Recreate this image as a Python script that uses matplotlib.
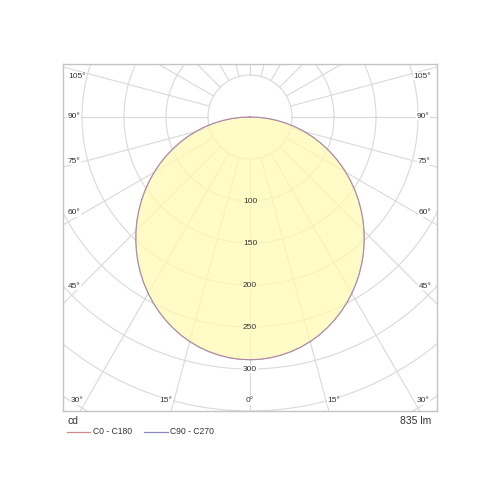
import numpy as np
import matplotlib.pyplot as plt
from matplotlib.lines import Line2D

plt.rcParams['font.family'] = ['Liberation Sans', 'DejaVu Sans']

# Lichtstärkeverteilung (cd) über Ausstrahlungswinkel gamma
gamma = [0, 2.5, 5, 7.5, 10, 12.5, 15, 17.5, 20, 22.5, 25, 27.5, 30, 32.5, 35, 37.5, 40, 42.5, 45,
         47.5, 50, 52.5, 55, 57.5, 60, 62.5, 65, 67.5, 70, 72.5, 75, 77.5, 80, 82.5, 85, 87.5, 90]
c0_c180 = [289.0, 288.7, 287.6, 285.9, 283.5, 280.5, 276.8, 272.5, 267.5, 262.0, 256.0, 249.5, 242.4,
           235.0, 227.1, 218.8, 210.2, 201.2, 192.0, 182.5, 172.7, 162.7, 152.6, 142.2, 131.8, 121.2,
           110.4, 99.6, 88.7, 77.8, 66.8, 55.7, 44.6, 33.5, 22.3, 11.2, 0.0]
c90_c270 = [289.0, 288.7, 287.6, 285.9, 283.5, 280.5, 276.8, 272.5, 267.5, 262.0, 256.0, 249.5, 242.4,
            235.0, 227.1, 218.8, 210.2, 201.2, 192.0, 182.5, 172.7, 162.7, 152.6, 142.2, 131.8, 121.2,
            110.4, 99.6, 88.7, 77.8, 66.8, 55.7, 44.6, 33.5, 22.3, 11.2, 0.0]

radii = [50, 100, 150, 200, 250, 300, 350, 400, 450]
radius_labels = ['100', '150', '200', '250', '300']
spokes = np.arange(0, 181, 15)
flux_text = '835 lm'
unit_text = 'cd'
legend_names = ['C0 - C180', 'C90 - C270']

# Positionen der Winkelbeschriftung (Pixel)
angle_labels = [('105°', 77, 76), ('90°', 74, 116), ('75°', 74, 161), ('60°', 74, 213), ('45°', 74, 286),
                ('105°', 422, 76), ('90°', 423, 116), ('75°', 424, 161), ('60°', 425, 213), ('45°', 425, 286),
                ('30°', 77, 401), ('15°', 166, 401), ('0°', 250, 401), ('15°', 334, 401), ('30°', 423, 401)]

fill_col = '#fffab3'
label_bg = '#fffbc6'
grid_col = '#d9d9d9'
text_col = '#333333'


def px(x, y):
    return x / 500, 1 - y / 500


fig = plt.figure(figsize=(5, 5), dpi=100)
ax = fig.add_axes([0.126, 0.178, 0.748, 0.694])
ax.set_xlim(-222.6, 222.6)
ax.set_ylim(-350, 63.1)
ax.set_xticks([])
ax.set_yticks([])
for s in ax.spines.values():
    s.set_color('#c4c4c4')
    s.set_linewidth(1.0)


def curve(vals):
    g = np.radians(np.array(gamma, dtype=float))
    v = np.array(vals, dtype=float)
    gg = np.concatenate([-g[::-1], g[1:]])
    vv = np.concatenate([v[::-1], v[1:]])
    return vv * np.sin(gg), -vv * np.cos(gg)


x0, y0 = curve(c0_c180)
x1, y1 = curve(c90_c270)

# Gitter
t = np.linspace(0, 2 * np.pi, 400)
for r in radii:
    ax.plot(r * np.cos(t), r * np.sin(t), color=grid_col, lw=0.8, zorder=1)
for a in spokes:
    ar = np.radians(a)
    for sgn in (1, -1):
        xs = sgn * np.sin(ar) * np.array([50, 600])
        ys = -np.cos(ar) * np.array([50, 600])
        ax.plot(xs, ys, color=grid_col, lw=0.8, zorder=1)

# halbtransparente Fläche über dem Gitter
ax.fill(x0, y0, color=fill_col, alpha=0.75, zorder=2, lw=0)
ax.plot(x0, y0, color='#d08a8a', lw=0.8, zorder=3)
ax.plot(x1, y1, color='#8a8ac8', lw=0.8, zorder=4, alpha=0.55)

for i, lab in enumerate(radius_labels):
    r = 100 + 50 * i
    bg = label_bg if r < 289 else 'white'
    ax.text(0, -r, lab, ha='center', va='center', fontsize=6, color=text_col, zorder=5,
            bbox=dict(fc=bg, ec='none', pad=0.5))

for lab, x, y in angle_labels:
    fx, fy = px(x, y)
    fig.text(fx, fy, lab, ha='center', va='center', fontsize=6, color=text_col, zorder=5,
             bbox=dict(fc='white', ec='none', pad=0.5))

# Fußzeile
fx, fy = px(67, 421)
fig.text(fx, fy, unit_text, ha='left', va='center', fontsize=7.5, color=text_col)
fx, fy = px(431, 421)
fig.text(fx, fy, flux_text, ha='right', va='center', fontsize=7.5, color=text_col)

leg_cols = ['#d08a8a', '#8a8ac8']
leg_x = [(67, 90, 93), (144, 168, 170)]
for (xa, xb, xt), name, c in zip(leg_x, legend_names, leg_cols):
    fig.add_artist(Line2D([xa / 500, xb / 500], [1 - 432 / 500] * 2, color=c, lw=0.9,
                          transform=fig.transFigure))
    fx, fy = px(xt, 432)
    fig.text(fx, fy, name, ha='left', va='center', fontsize=6.2, color=text_col)

fig.savefig('out.png', dpi=100, facecolor='white')
